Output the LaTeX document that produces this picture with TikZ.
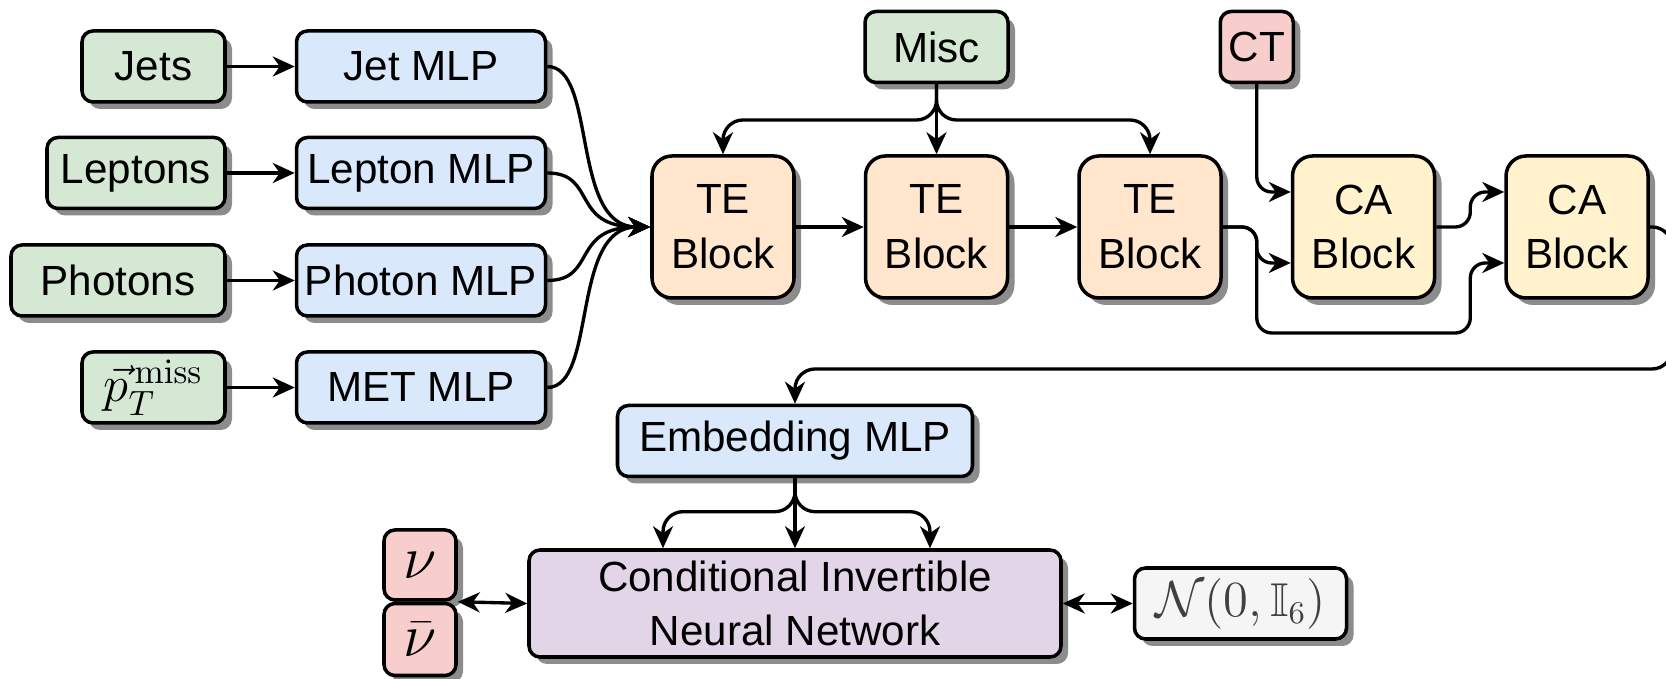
\documentclass[tikz,border=0pt]{standalone}
\usepackage{amsmath}
\usepackage{amssymb}
\usepackage[no-math]{fontspec}
\setmainfont{Liberation Sans}
\usetikzlibrary{arrows.meta,positioning,shadows}
\definecolor{ingreen}{HTML}{D5E8D4}
\definecolor{mlpblue}{HTML}{DAE8FC}
\definecolor{teorange}{HTML}{FFE6CC}
\definecolor{cayellow}{HTML}{FFF2CC}
\definecolor{outred}{HTML}{F8CECC}
\definecolor{cinnpurple}{HTML}{E1D5E7}
\definecolor{latentgrey}{HTML}{F5F5F5}

\begin{document}
\begin{tikzpicture}[
  x=0.1mm, y=-0.1mm,
  node distance=6.8mm,
  box/.style={draw, line width=1pt, rounded corners=1.1mm, align=center,
    minimum height=7.1mm, inner sep=2pt, font=\fontsize{12}{15.6}\selectfont,
    drop shadow={shadow xshift=0.7mm, shadow yshift=-0.7mm, fill=black!45, opacity=1}},
  input/.style={box, fill=ingreen},
  mlp/.style={box, fill=mlpblue, minimum width=24.9mm},
  teblock/.style={box, fill=teorange, minimum width=14.2mm, minimum height=14.2mm, rounded corners=2mm},
  cablock/.style={box, fill=cayellow, minimum width=14.2mm, minimum height=14.2mm, rounded corners=2mm},
  arrow/.style={-{Stealth[length=2.2mm, width=2mm, inset=0.7mm]}, line width=0.95pt},
  both/.style={{Stealth[length=2.2mm, width=2mm, inset=0.7mm]}-{Stealth[length=2.2mm, width=2mm, inset=0.7mm]}, line width=0.95pt}
]
\useasboundingbox (0,0) rectangle (1666,679);

\node[input, minimum width=14.3mm] (jets) at (153.5,66.5) {Jets};
\node[input, minimum width=17.8mm] (leps) at (136,173) {Leptons};
\node[input, minimum width=21.4mm] (phos) at (118,280.5) {Photons};
\node[input, minimum width=14.3mm, font=\fontsize{14}{16}\selectfont] (met) at (153.5,387.5) {$\vec{p}_T^{\,\mathrm{miss}}$};

\node[mlp] (jetmlp) [right=of jets] {Jet MLP};
\node[mlp] (lepmlp) [right=of leps] {Lepton MLP};
\node[mlp] (phomlp) [right=of phos] {Photon MLP};
\node[mlp] (metmlp) [right=of met] {MET MLP};

\node[teblock] (te1) at (723,227) {TE\\Block};
\node[teblock] (te2) [right=of te1] {TE\\Block};
\node[teblock] (te3) [right=of te2] {TE\\Block};
\node[cablock] (ca1) [right=of te3] {CA\\Block};
\node[cablock] (ca2) [right=of ca1] {CA\\Block};

\coordinate (split) at ([xshift=3.4mm]te3.east);
\node[input, minimum width=14.3mm] (misc) [above=7mm of te2] {Misc};
\node[box, fill=outred, minimum width=7.3mm] (ct) at (split |- misc) {CT};

\node[mlp, minimum width=35.5mm] (emb) at (795,441) {Embedding MLP};
\node[box, fill=cinnpurple, minimum width=53.2mm, minimum height=10.7mm] (cinn) [below=7mm of emb] {Conditional Invertible\\Neural Network};
\node[box, fill=outred, minimum width=7.2mm, minimum height=7mm, font=\fontsize{18}{20}\selectfont] (nu) at (420,565) {$\nu$};
\node[box, fill=outred, minimum width=7.2mm, minimum height=7.2mm, font=\fontsize{18}{20}\selectfont, anchor=north] (nubar) at (nu.south) {$\bar{\nu}$};
\node[box, fill=latentgrey, text=black!75, minimum width=21.2mm, font=\fontsize{13.5}{16}\selectfont] (gauss) [right=7mm of cinn] {$\mathcal{N}(0,\mathbb{I}_6)$};

\coordinate (miscbus) at (misc.south |- 0,120);
\coordinate (lowbus) at (split |- 0,333);
\coordinate (hop) at ([xshift=3.4mm]ca1.east |- lowbus);
\coordinate (hopup) at ([xshift=3.4mm]ca1.east);
\coordinate (edge) at (1672,227);
\coordinate (back) at (1672,369);
\coordinate (embbus) at (emb.south |- 0,511.7);

\draw[arrow] (jets) -- (jetmlp);
\draw[arrow] (leps) -- (lepmlp);
\draw[arrow] (phos) -- (phomlp);
\draw[arrow] (met) -- (metmlp);

\draw[arrow] (jetmlp.east) .. controls +(50,0) and +(-80,0) .. (te1.west);
\draw[arrow] (lepmlp.east) .. controls +(50,0) and +(-80,0) .. (te1.west);
\draw[arrow] (phomlp.east) .. controls +(50,0) and +(-80,0) .. (te1.west);
\draw[arrow] (metmlp.east) .. controls +(50,0) and +(-80,0) .. (te1.west);

\draw[arrow] (te1) -- (te2);
\draw[arrow] (te2) -- (te3);
\draw[arrow] (misc.south) -- (te2.north);
\draw[arrow, rounded corners=2mm] (misc.south) -- (miscbus) -| (te1.north);
\draw[arrow, rounded corners=2mm] (misc.south) -- (miscbus) -| (te3.north);

\draw[arrow, rounded corners=1.5mm] (ct.south) |- ([yshift=3.5mm]ca1.west);
\draw[arrow, rounded corners=1.5mm] (te3.east) -- (split) |- ([yshift=-3.6mm]ca1.west);
\draw[arrow, rounded corners=1.5mm] (te3.east) -- (split) -- (lowbus) -- (hop) |- ([yshift=-3.6mm]ca2.west);
\draw[arrow, rounded corners=1.5mm] (ca1.east) -- (hopup) |- ([yshift=3.5mm]ca2.west);
\draw[arrow, rounded corners=2mm] (ca2.east) -- (edge) -- (back) -| (emb.north);

\draw[arrow] (emb.south) -- (cinn.north);
\draw[arrow, rounded corners=2mm] (emb.south) -- (embbus) -| ([xshift=-13.2mm]cinn.north);
\draw[arrow, rounded corners=2mm] (emb.south) -- (embbus) -| ([xshift=13.5mm]cinn.north);

\draw[both] (nu.south east) -- (cinn.west);
\draw[both] (cinn.east) -- (gauss.west);
\end{tikzpicture}
\end{document}
